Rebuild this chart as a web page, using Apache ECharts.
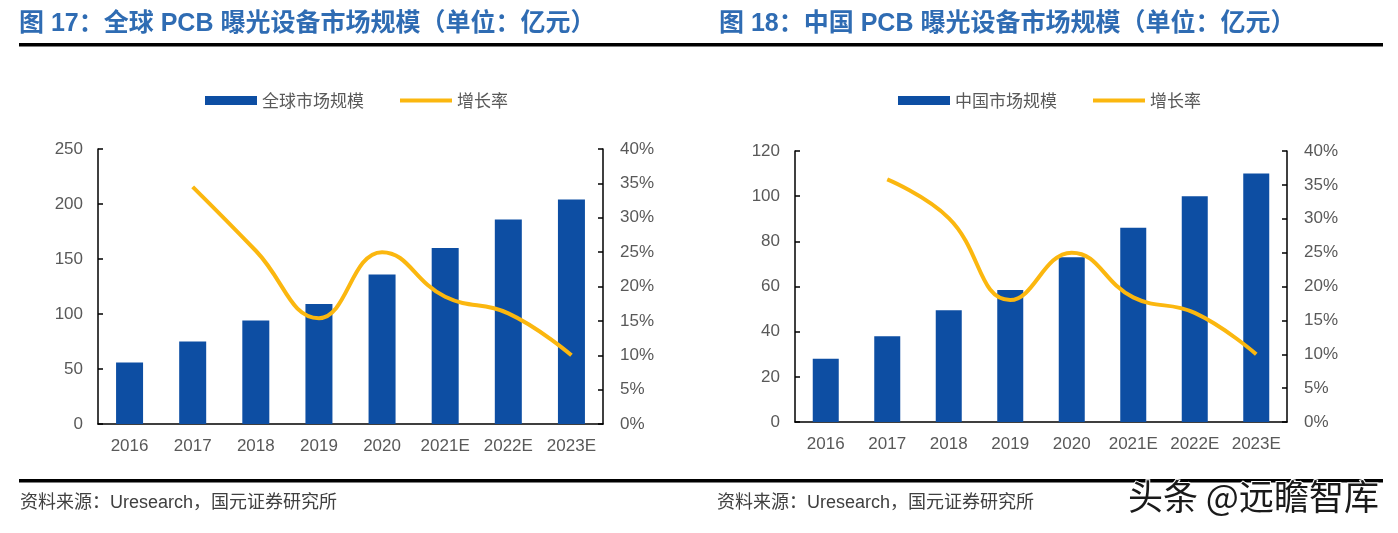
<!DOCTYPE html>
<html><head><meta charset="utf-8">
<script src="https://cdn.jsdelivr.net/npm/echarts@6/dist/echarts.min.js"></script>
<style>html,body{margin:0;padding:0;background:#fff}#c{width:1398px;height:533px}</style>
</head><body><div id="c"></div>
<script>
const categories = ['2016','2017','2018','2019','2020','2021E','2022E','2023E'];
const globalMarket = [56, 75, 94, 109, 136, 160, 186, 204];
const globalGrowth = [null, 34.5, 25.2, 15.4, 25.0, 18.5, 16.1, 10.0];
const chinaMarket = [28, 38, 49.5, 58.5, 73, 86, 100, 110];
const chinaGrowth = [null, 35.8, 30.1, 18.0, 25.0, 18.4, 16.1, 10.0];
const leftTicks1 = {min:0, max:250, interval:50};
const leftTicks2 = {min:0, max:120, interval:20};
const rightTicks = {min:0, max:40, interval:5};
const titles = ['图 17：全球 PCB 曝光设备市场规模（单位：亿元）','图 18：中国 PCB 曝光设备市场规模（单位：亿元）'];
const barNames = ['全球市场规模','中国市场规模'];
const lineName = '增长率';
const sourceText = '资料来源：Uresearch，国元证券研究所';
const watermark = '头条 @远瞻智库';

const BLUE = '#0D4EA3', GOLD = '#FBB70F', GRAY = '#595959';
const FONT = '"Liberation Sans", "Noto Sans CJK SC", sans-serif';
const chart = echarts.init(document.getElementById('c'));

function xAx(gi){return {type:'category', gridIndex:gi, data:categories, boundaryGap:true,
  axisLine:{lineStyle:{color:'#000', width:1.5}}, axisTick:{inside:true, length:5, lineStyle:{color:'#000', width:1.5}},
  axisLabel:{color:GRAY, fontSize:17, fontFamily:FONT, margin:14, interval:0}};}
function yAx(gi, t, pos, fmt){return {type:'value', gridIndex:gi, position:pos, min:t.min, max:t.max, interval:t.interval,
  splitLine:{show:false}, axisLine:{show:true, lineStyle:{color:'#000', width:1.5}},
  axisTick:{show:true, inside:true, length:5, lineStyle:{color:'#000', width:1.5}},
  axisLabel:{color:GRAY, fontSize:17, fontFamily:FONT, margin:pos==='left'?15:17, formatter:fmt}};}

const legendText = {color:GRAY, fontSize:17, fontFamily:'"Noto Sans CJK SC", sans-serif'};
const lg = (data, left, h, extra) => Object.assign({data, left, top:92, padding:0, itemWidth:52, itemHeight:h, icon:'rect', itemGap:5, textStyle:legendText}, extra||{});
chart.setOption({
  animation:false,
  textStyle:{fontFamily:FONT},
  grid:[{left:98, right:795, top:149, bottom:109},{left:795, right:111, top:151, bottom:111}],
  xAxis:[xAx(0), xAx(1)],
  yAxis:[yAx(0,leftTicks1,'left'), yAx(0,rightTicks,'right','{value}%'), yAx(1,leftTicks2,'left'), yAx(1,rightTicks,'right','{value}%')],
  legend:[
    lg([barNames[0]], 205, 9),
    lg([lineName], 400, 4),
    lg([barNames[1]], 898, 9),
    lg([lineName+' '], 1093, 4, {formatter:()=>lineName})
  ],
  series:[
    {name:barNames[0], type:'bar', xAxisIndex:0, yAxisIndex:0, data:globalMarket, barWidth:27, itemStyle:{color:BLUE}},
    {name:lineName, type:'line', xAxisIndex:0, yAxisIndex:1, data:globalGrowth, smooth:0.45, showSymbol:false, symbol:'none', lineStyle:{color:GOLD, width:4}, itemStyle:{color:GOLD}},
    {name:barNames[1], type:'bar', xAxisIndex:1, yAxisIndex:2, data:chinaMarket, barWidth:26, itemStyle:{color:BLUE}},
    {name:lineName+' ', type:'line', xAxisIndex:1, yAxisIndex:3, data:chinaGrowth, smooth:0.45, showSymbol:false, symbol:'none', lineStyle:{color:GOLD, width:4}, itemStyle:{color:GOLD}}
  ],
  graphic:[
    {type:'text', left:19, top:12, style:{text:titles[0], fill:'#2F6CB3', font:'bold 25px "Liberation Sans", "Noto Sans CJK SC", sans-serif'}},
    {type:'text', left:719, top:12, style:{text:titles[1], fill:'#2F6CB3', font:'bold 25px "Liberation Sans", "Noto Sans CJK SC", sans-serif'}},
    {type:'rect', shape:{x:19, y:43, width:1364, height:3.5}, style:{fill:'#000'}},
    {type:'rect', shape:{x:19, y:479, width:1364, height:3.5}, style:{fill:'#000'}},
    {type:'text', left:20, top:494, style:{text:sourceText, fill:'#404040', font:'18px "Liberation Sans", "Noto Sans CJK SC", sans-serif'}},
    {type:'text', left:717, top:494, style:{text:sourceText, fill:'#404040', font:'18px "Liberation Sans", "Noto Sans CJK SC", sans-serif'}},
    {type:'text', left:1127, top:478, style:{text:watermark, fill:'#1a1a1a', stroke:'#fff', lineWidth:2, font:'35px "Noto Sans CJK SC", sans-serif'}}
  ]
});
</script></body></html>
